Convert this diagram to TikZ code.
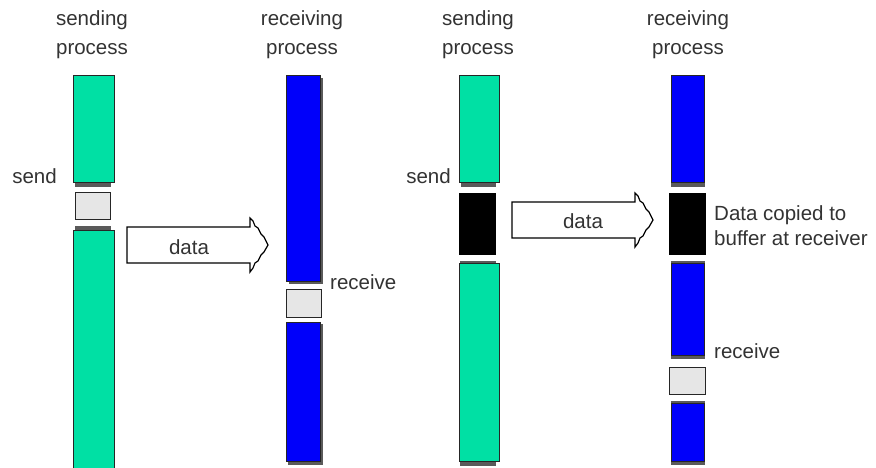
\documentclass[tikz,border=0pt]{standalone}
\usepackage{fontspec}
\setmainfont{Liberation Sans}
\definecolor{procgreen}{RGB}{0,224,164}
\definecolor{procblue}{RGB}{0,0,250}
\definecolor{bufgray}{RGB}{230,230,230}
\definecolor{shadegray}{RGB}{90,90,90}
\tikzset{
  lbl/.style={inner sep=0pt, font=\fontsize{20.5}{24}\selectfont, text=black!80},
  greenbar/.style={fill=procgreen, draw=black!85, line width=0.8pt},
  bluebar/.style={fill=procblue, draw=black!85, line width=0.8pt},
  graybox/.style={fill=bufgray, draw=black!85, line width=1pt},
  blackbox/.style={fill=black, draw=black, line width=0.8pt},
  shade/.style={fill=shadegray, draw=shadegray, line width=0.4pt},
  blockarrow/.style={fill=white, draw=black, line width=1.2pt, line join=miter},
}
\newcommand{\dataarrowpath}{(127,227) -- (250,227) -- (250,218) -- (253,221) -- (255,226) -- (258,228) -- (261,234) -- (264,237) -- (268,245) -- (264,252) -- (261,255) -- (258,261) -- (255,263) -- (253,268) -- (250,272) -- (250,263) -- (127,263) -- cycle}
\begin{document}
\begin{tikzpicture}[x=1pt,y=-1pt]
\useasboundingbox (0,0) rectangle (876,468);
\fill[white] (0,0) rectangle (876,468);
\begin{scope}
\clip (0,0) rectangle (876,468);
% ---------- left panel: sending process ----------
\node[lbl, anchor=base] (s1a) at (92,26) {sending};
\node[lbl, anchor=base] (s1b) at (92,55) {process};
\draw[shade] (75,180) rectangle (110,186);
\draw[greenbar] (73,75) rectangle (114,182);
\node[lbl, anchor=base east] (send1) at (57,184) {send};
\draw[graybox] (75,193) rectangle (110,219);
\draw[shade] (75,226) rectangle (110,232);
\draw[greenbar] (73,230) rectangle (114,472);
% ---------- left panel: receiving process ----------
\node[lbl, anchor=base] (r1a) at (302,26) {receiving};
\node[lbl, anchor=base] (r1b) at (302,55) {process};
\draw[shade] (289,78) rectangle (322,283);
\draw[bluebar] (286,75) rectangle (320,281);
\node[lbl, anchor=base west] (recv1) at (330,289) {receive};
\draw[graybox] (286,289) rectangle (321,317);
\draw[shade] (288,324) rectangle (322,464);
\draw[bluebar] (286,322) rectangle (320,461);
% data arrow 1
\draw[blockarrow] \dataarrowpath;
\node[lbl, anchor=base] (data1) at (189,254) {data};
% ---------- right panel: sending process ----------
\node[lbl, anchor=base] (s2a) at (478,26) {sending};
\node[lbl, anchor=base] (s2b) at (478,55) {process};
\draw[shade] (461,180) rectangle (495,186);
\draw[greenbar] (459,75) rectangle (499,182);
\node[lbl, anchor=base east] (send2) at (451,184) {send};
\draw[blackbox] (459,193) rectangle (495,254);
\draw[shade] (460,261) rectangle (495,465);
\draw[greenbar] (459,263) rectangle (499,461);
% ---------- right panel: receiving process ----------
\node[lbl, anchor=base] (r2a) at (688,26) {receiving};
\node[lbl, anchor=base] (r2b) at (688,55) {process};
\draw[shade] (671,180) rectangle (704,186);
\draw[bluebar] (671,75) rectangle (704,182);
\draw[blackbox] (669,193) rectangle (705,254);
\node[lbl, anchor=base west] (copy1) at (714,220) {Data copied to};
\node[lbl, anchor=base west] (copy2) at (714,245) {buffer at receiver};
\draw[shade] (671,261) rectangle (704,358);
\draw[bluebar] (671,263) rectangle (704,355);
\node[lbl, anchor=base west] (recv2) at (714,358) {receive};
\draw[graybox] (669,367) rectangle (705,394);
\draw[shade] (671,401) rectangle (704,464);
\draw[bluebar] (671,403) rectangle (704,461);
% data arrow 2
\begin{scope}[shift={(385,-25)}]
\draw[blockarrow] \dataarrowpath;
\end{scope}
\node[lbl, anchor=base] (data2) at (583,228) {data};
\end{scope}
\end{tikzpicture}
\end{document}
